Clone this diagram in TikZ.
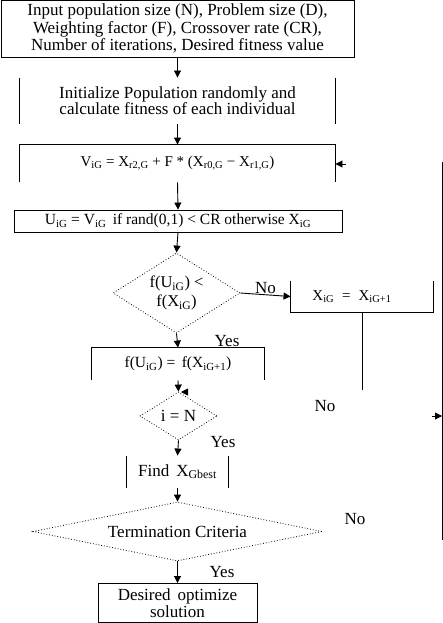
\documentclass[tikz,border=0pt]{standalone}
\usepackage{fontspec}
\setmainfont{Liberation Serif}
\usetikzlibrary{shapes.geometric,arrows.meta}
\newcommand\ssb[1]{\textsubscript{#1}}
\begin{document}
\begin{tikzpicture}[x=1pt,y=-1pt,line width=0.9pt,
  every node/.style={font=\fontsize{17}{17.5}\selectfont, inner sep=0pt, align=center},
  dia/.style={diamond, draw, dotted, line width=0.8pt},
  arr/.style={-{Triangle[length=7pt,width=7pt]}},
  lbl/.style={font=\fontsize{17}{17}\selectfont}]
\useasboundingbox (0,0) rectangle (443,623);
% nodes
\node[draw, minimum width=353pt, minimum height=57pt] (input) at (177.5,28.5)
  {Input population size (N), Problem size (D),\\ Weighting factor (F), Crossover rate (CR),\\ Number of iterations, Desired fitness value};
\node[minimum width=315pt, minimum height=46pt, font=\fontsize{17}{16}\selectfont] (init) at (177.5,101)
  {Initialize Population randomly and\\ calculate fitness of each individual};
\node[minimum width=315pt, minimum height=37pt, font=\fontsize{15}{15}\selectfont] (V) at (177.5,163.5)
  {V\ssb{iG} = X\ssb{r2,G} + F * (X\ssb{r0,G} − X\ssb{r1,G})};
\node[draw, minimum width=328pt, minimum height=22pt, font=\fontsize{15.5}{15}\selectfont] (U) at (178,221)
  {U\ssb{iG} = V\ssb{iG}\, if rand(0,1) < CR otherwise X\ssb{iG}};
\node[dia, minimum width=127pt, minimum height=80pt, aspect=1.6, font=\fontsize{16.5}{19}\selectfont] (d1) at (176.5,293)
  {f(U\ssb{iG}) <\\ f(X\ssb{iG})};
\node[minimum width=142pt, minimum height=31pt, font=\fontsize{15}{15}\selectfont] (X) at (362,296.5)
  {\raisebox{2pt}{X\ssb{iG}\; = \;X\ssb{iG+1}}\hspace*{20pt}};
\node[minimum width=172pt, minimum height=32pt, font=\fontsize{15.5}{15}\selectfont] (F) at (178,364)
  {f(U\ssb{iG}) = \,f(X\ssb{iG+1})};
\node[dia, minimum width=77pt, minimum height=48pt, aspect=1.6] (d2) at (178.5,416) {i = N};
\node[minimum width=101pt, minimum height=32pt] (find) at (177.5,472) {\raisebox{3pt}{Find\, X\ssb{Gbest}}};
\node[dia, minimum width=289pt, minimum height=59pt, aspect=4.9, font=\fontsize{17}{17}\selectfont] (d3) at (177.5,531.5) {Termination Criteria};
\node[draw, minimum width=159pt, minimum height=39pt] (final) at (177.5,603)
  {Desired\, optimize\\ solution};
% partial frames
\draw (init.north west) -- (init.south west);
\draw (init.north east) -- (init.south east);
\draw (V.south west) -- (V.north west) -- (V.north east) -- (V.south east);
\draw (X.north west) -- (X.south west) -- (X.south east) -- (X.north east);
\draw (F.south west) -- (F.north west) -- (F.north east) -- (F.south east);
\draw (find.north west) -- (find.south west);
\draw (find.north east) -- (find.south east);
% connectors
\draw[arr] (input.south) -- (init.north);
\draw[arr] (init.south) -- (V.north);
\draw[arr] (V.south) -- (U.north);
\draw[arr] (U.south) -- (d1.north);
\draw[arr] (d1.east) -- node[lbl, above, yshift=1pt] {No} (X.west);
\draw[arr] (d1.south) -- (F.north);
\draw[arr] (F.south) -- (d2.north);
\draw[arr] (d2.south) -- (find.north);
\draw[arr] (find.south) -- (d3.north);
\draw[arr] (d3.south) -- (final.north);
% loop fragments
\coordinate (xdown) at (362,390);
\draw (X.south) -- (xdown);
\coordinate (lt) at (442,162);
\coordinate (lb) at (442,540);
\draw (lt) -- (lb);
\coordinate (vin) at (346,164);
\draw[arr] (vin) -- (V.east |- vin);
\coordinate (rin) at (432,416);
\draw[arr] (rin) -- (lt |- rin);
\coordinate (din) at (186,392);
\draw[arr] (din) -- (181,392);
% labels
\node[lbl] (y1) at (227,341) {Yes};
\node[lbl] (y2) at (223,442) {Yes};
\node[lbl] (y3) at (222,572) {Yes};
\node[lbl] (n2) at (325,406) {No};
\node[lbl] (n3) at (355,519) {No};
\end{tikzpicture}
\end{document}
